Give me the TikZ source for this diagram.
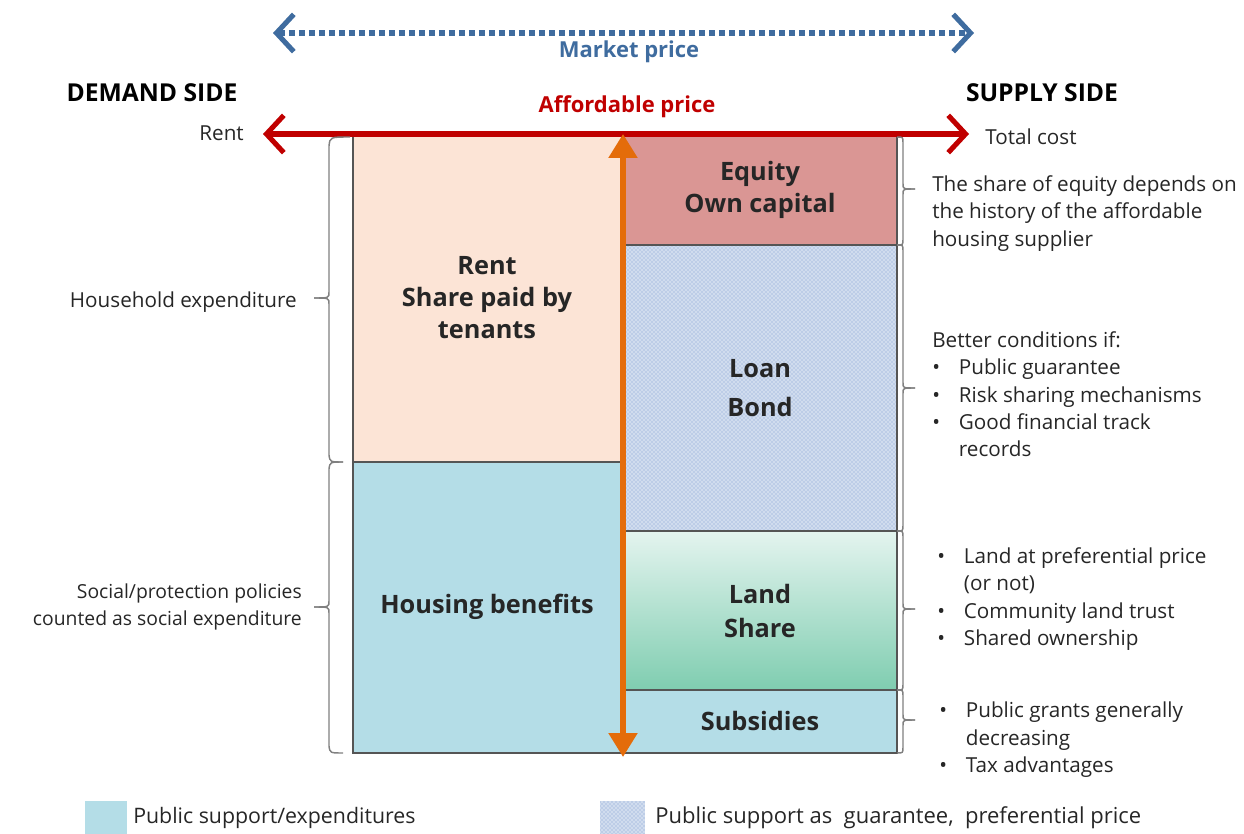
\documentclass[tikz,border=0pt]{standalone}
\usepackage{fontspec}
\setmainfont{Open Sans}
\usetikzlibrary{arrows.meta,patterns}
\definecolor{peach}{HTML}{FCE4D6}
\definecolor{lblue}{HTML}{B4DDE7}
\definecolor{equity}{HTML}{DA9694}
\definecolor{loanbg}{HTML}{D0DCEE}
\definecolor{loandot}{HTML}{829FD0}
\definecolor{landtop}{HTML}{E4F4EF}
\definecolor{landbot}{HTML}{7FCDB0}
\definecolor{mred}{HTML}{C00000}
\definecolor{mblue}{HTML}{3F6C9F}
\definecolor{morange}{HTML}{E46C0A}
\definecolor{edge}{HTML}{555555}
\definecolor{txt}{HTML}{262626}
\newcommand\bul[1]{\makebox[20pt][l]{•}#1}
\newcommand\cont[1]{\hspace*{20pt}#1}
\tikzset{barbtip/.tip={Straight Barb[length=13pt,width=28pt,line width=3.8pt]},
  tritip/.tip={Triangle[length=18pt,width=21pt]}}
\begin{document}
\begin{tikzpicture}[x=0.75pt,y=-0.75pt,
  font=\fontsize{15.5}{20.6}\selectfont,
  boxtext/.style={align=center, text=txt, font=\fontsize{19}{24}\selectfont\bfseries},
  br/.style={draw=gray, line width=1.1pt},
  note/.style={anchor=north west, align=left, text=txt, inner sep=0pt},
  lab/.style={text=txt, inner sep=0pt},
  head/.style={font=\fontsize{18.5}{22}\selectfont\bfseries, text=black, inner sep=0pt}]
\useasboundingbox (0,0) rectangle (1244,834);

% ---- boxes
\fill[peach] (353,136) rectangle (623,462);
\fill[lblue] (353,462) rectangle (623,753);
\fill[equity] (625,136) rectangle (897,245);
\fill[loanbg] (625,245) rectangle (897,531);
\fill[pattern=crosshatch dots, pattern color=loandot] (625,245) rectangle (897,531);
\shade[top color=landtop, bottom color=landbot] (625,531) rectangle (897,690);
\fill[lblue] (625,690) rectangle (897,753);
\draw[edge, line width=0.8pt] (353,136) -- (353,753) -- (897,753) -- (897,136);
\draw[edge, line width=0.8pt] (353,462) -- (623,462);
\draw[edge, line width=0.8pt] (625,245) -- (897,245);
\draw[edge, line width=0.8pt] (625,531) -- (897,531);
\draw[edge, line width=0.8pt] (625,690) -- (897,690);

\node[boxtext] (rent) at (487,298) {Rent\\Share paid by\\tenants};
\node[boxtext] (hb) at (487,607) {Housing benefits};
\node[boxtext, font=\fontsize{19}{23.5}\selectfont\bfseries] (eq) at (760,190) {Equity\\Own capital};
\node[boxtext, font=\fontsize{19}{29}\selectfont\bfseries] (loan) at (760,388) {Loan\\Bond};
\node[boxtext, font=\fontsize{19}{25}\selectfont\bfseries] (land) at (760,611) {Land\\Share};
\node[boxtext] (sub) at (760,721) {Subsidies};

% ---- arrows
\coordinate (mL) at (273,33);
\coordinate (mR) at (974,33);
\draw[mblue, line width=4.5pt, dash pattern=on 4.5pt off 3pt, barbtip-barbtip] (mL) -- (mR);
\node[text=mblue, font=\fontsize{16.5}{20}\selectfont\bfseries] (mp) at (629,52) {Market price};

\coordinate (rL) at (263,134);
\coordinate (rR) at (969,134);
\draw[mred, line width=4pt, barbtip-barbtip] (rL) -- (rR);
\node[text=mred, font=\fontsize{16.5}{20}\selectfont\bfseries] (ap) at (627,107) {Affordable price};

\coordinate (oT) at (623,134);
\coordinate (oB) at (623,757);
\draw[morange, line width=4pt, tritip-tritip] (oT) -- (oB);

% ---- headings
\node[head] (ds) at (152,93) {DEMAND SIDE};
\node[head] (ss) at (1042,93) {SUPPLY SIDE};
\node[lab, anchor=east] (rentl) at (244,133) {Rent};
\node[lab, anchor=west] (tc) at (985,137) {Total cost};

% ---- left brackets
\draw[br] (350,137) .. controls (330,137) .. (329,146) -- (329,292) .. controls (329,298) .. (314,298);
\draw[br] (314,298) .. controls (329,298) .. (329,304) -- (329,455) .. controls (330,462) .. (343,462);
\draw[br] (343,462) .. controls (330,462) .. (329,469) -- (329,601) .. controls (329,607) .. (314,607);
\draw[br] (314,607) .. controls (329,607) .. (329,613) -- (329,746) .. controls (330,753) .. (343,753);
\node[lab, anchor=east] (he) at (297,302) {Household expenditure};
\node[lab, anchor=east, align=right, font=\fontsize{14.5}{20.6}\selectfont] (sp) at (302,607) {Social/protection policies\\counted as social expenditure};

% ---- right brackets
\newcommand\RBr[3]{%
  \draw[br] (897,#1) .. controls (903,#1) .. (903,{#1+6}) -- (903,{#2-5}) .. controls (903,#2) .. (915,#2);
  \draw[br] (915,#2) .. controls (903,#2) .. (903,{#2+5}) -- (903,{#3-6}) .. controls (903,#3) .. (897,#3);}
\RBr{137}{189}{245}
\RBr{245}{388}{531}
\RBr{531}{609}{690}
\RBr{690}{720}{753}

\node[note] (n1) at (932,175) {The share of equity depends on\\the history of the affordable\\housing supplier};
\node[note] (n2) at (932,331) {Better conditions if:\\
  \bul{Public guarantee}\\
  \bul{Risk sharing mechanisms}\\
  \bul{Good financial track}\\
  \cont{records}};
\node[note] (n3) at (937,547) {\bul{Land at preferential price}\\
  \cont{(or not)}\\
  \bul{Community land trust}\\
  \bul{Shared ownership}};
\node[note] (n4) at (939,702) {\bul{Public grants generally}\\
  \cont{decreasing}\\
  \bul{Tax advantages}};

% ---- legend
\fill[lblue] (85,801) rectangle (127,834);
\node[lab, anchor=west, font=\fontsize{16}{20}\selectfont] (lg1) at (133,818) {Public support/expenditures};
\fill[loanbg] (600,801) rectangle (645,834);
\fill[pattern=crosshatch dots, pattern color=loandot] (600,801) rectangle (645,834);
\node[lab, anchor=west, font=\fontsize{16.5}{20}\selectfont] (lg2) at (655,818) {Public support as \ guarantee, \ preferential price};
\end{tikzpicture}
\end{document}
